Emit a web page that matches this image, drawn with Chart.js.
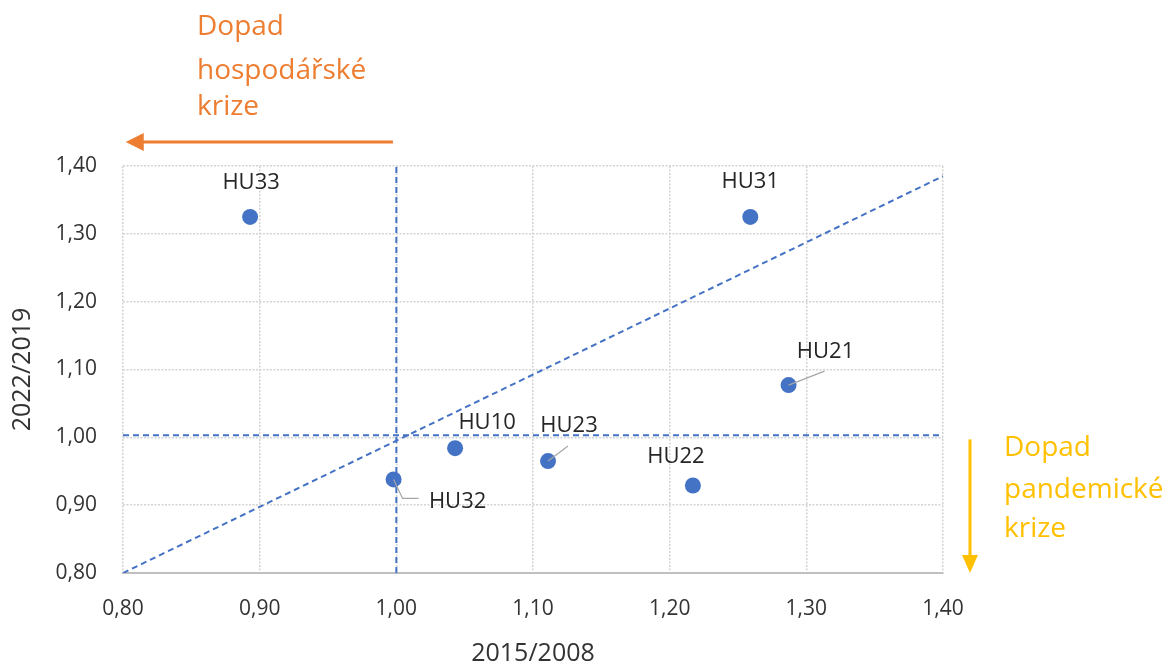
<!DOCTYPE html>
<html>
<head>
<meta charset="utf-8">
<script src="https://cdn.jsdelivr.net/npm/chart.js@4"></script>
<style>
  html, body { margin: 0; padding: 0; background: #fff; }
  #wrap { width: 1168px; height: 666px; }
</style>
</head>
<body>
<div id="wrap"><canvas id="graf"></canvas></div>
<script>
// regiony a poměry
const regions = ['HU10', 'HU21', 'HU22', 'HU23', 'HU31', 'HU32', 'HU33'];
const ratio2015 = [1.043, 1.287, 1.217, 1.111, 1.259, 0.998, 0.893];
const ratio2022 = [0.984, 1.077, 0.929, 0.965, 1.325, 0.938, 1.325];

// pomocné čáry
const lineX = [0.80, 1.40];
const levelY = [1.003, 1.003];
const crossX = [1.00, 1.00];
const crossY = [0.80, 1.40];
const diagY = [0.80, 1.385];

const fmt = v => Number(v).toFixed(2).replace('.', ',');

// posun popisků v pixelech (a vodicí čáry)
const labelOffset = {
  HU10: { dx: 32, dy: -25 },
  HU21: { dx: 37, dy: -33, lead: [[36, -14]] },
  HU22: { dx: -17, dy: -29 },
  HU23: { dx: 21, dy: -35, lead: [[20, -15]] },
  HU31: { dx: 0, dy: -35 },
  HU32: { dx: 64, dy: 22, lead: [[9, 19], [25, 19]] },
  HU33: { dx: 1, dy: -34 }
};

const textColor = '#333333';
const blue = '#4472C4';
const orange = '#ED7D31';
const yellow = '#FFC000';

const labelsPlugin = {
  id: 'labels',
  afterDatasetsDraw(chart) {
    const ctx = chart.ctx;
    const meta = chart.getDatasetMeta(0);
    ctx.save();
    ctx.font = '22px "Open Sans"';
    ctx.fillStyle = '#262626';
    ctx.textAlign = 'center';
    ctx.textBaseline = 'middle';
    meta.data.forEach((pt, i) => {
      const o = labelOffset[regions[i]];
      if (o.lead) {
        ctx.beginPath();
        ctx.strokeStyle = '#a6a6a6';
        ctx.lineWidth = 1.2;
        ctx.moveTo(pt.x, pt.y);
        o.lead.forEach(p => ctx.lineTo(pt.x + p[0], pt.y + p[1]));
        ctx.stroke();
      }
      ctx.fillText(regions[i], pt.x + o.dx, pt.y + o.dy);
    });
    ctx.restore();
  }
};

const arrowPlugin = {
  id: 'arrows',
  afterDraw(chart) {
    const ctx = chart.ctx;
    const xs = chart.scales.x, ys = chart.scales.y;
    ctx.save();
    // hospodářská krize - doleva
    let x1 = xs.getPixelForValue(0.9975), x2 = xs.getPixelForValue(0.802), y = 142;
    ctx.strokeStyle = orange; ctx.fillStyle = orange; ctx.lineWidth = 3;
    ctx.beginPath(); ctx.moveTo(x1, y); ctx.lineTo(x2 + 16, y); ctx.stroke();
    ctx.beginPath(); ctx.moveTo(x2, y); ctx.lineTo(x2 + 18, y - 9); ctx.lineTo(x2 + 18, y + 9); ctx.closePath(); ctx.fill();
    ctx.font = '28px "Open Sans"';
    ctx.textAlign = 'left'; ctx.textBaseline = 'alphabetic';
    ctx.fillText('Dopad', 197, 35);
    ctx.fillText('hospodářské', 197, 79);
    ctx.fillText('krize', 197, 115);
    // pandemická krize - dolů
    let x = 970, y1 = ys.getPixelForValue(0.997), y2 = ys.getPixelForValue(0.80);
    ctx.strokeStyle = yellow; ctx.fillStyle = yellow;
    ctx.beginPath(); ctx.moveTo(x, y1); ctx.lineTo(x, y2 - 16); ctx.stroke();
    ctx.beginPath(); ctx.moveTo(x, y2); ctx.lineTo(x - 8, y2 - 18); ctx.lineTo(x + 8, y2 - 18); ctx.closePath(); ctx.fill();
    ctx.fillText('Dopad', 1004, 456);
    ctx.fillText('pandemické', 1004, 498);
    ctx.fillText('krize', 1004, 537);
    ctx.restore();
  }
};

const refLine = {
  type: 'line',
  showLine: true,
  borderColor: blue,
  borderWidth: 2,
  borderDash: [6, 4],
  pointRadius: 0,
  fill: false
};

new Chart(document.getElementById('graf'), {
  type: 'scatter',
  data: {
    datasets: [
      {
        label: 'regiony',
        data: regions.map((r, i) => ({ x: ratio2015[i], y: ratio2022[i] })),
        backgroundColor: blue,
        borderWidth: 0,
        pointRadius: 8,
        pointHoverRadius: 8
      },
      Object.assign({}, refLine, { data: lineX.map((v, i) => ({ x: v, y: levelY[i] })) }),
      Object.assign({}, refLine, { data: crossX.map((v, i) => ({ x: v, y: crossY[i] })) }),
      Object.assign({}, refLine, { data: lineX.map((v, i) => ({ x: v, y: diagY[i] })) })
    ]
  },
  options: {
    responsive: true,
    maintainAspectRatio: false,
    animation: false,
    events: [],
    layout: { padding: { left: 0, top: 166, right: 225, bottom: 0 } },
    plugins: { legend: { display: false }, tooltip: { enabled: false } },
    scales: {
      x: {
        type: 'linear',
        min: 0.8, max: 1.4,
        afterFit: s => { s.height = 93; },
        ticks: { stepSize: 0.1, padding: 23, color: textColor, font: { family: 'Open Sans', size: 21 }, callback: fmt },
        grid: { color: '#d4d4d4', lineWidth: 1.5, drawTicks: false },
        border: { display: true, color: '#bfbfbf', width: 2, dash: [2, 1.5] },
        title: { display: true, text: '2015/2008', color: textColor, font: { family: 'Open Sans', size: 25, lineHeight: 1 }, padding: { top: 0, bottom: 0 } }
      },
      y: {
        type: 'linear',
        min: 0.8, max: 1.4,
        afterFit: s => { s.width = 123; },
        ticks: { stepSize: 0.1, padding: 26, color: textColor, font: { family: 'Open Sans', size: 21 }, callback: fmt },
        grid: { color: '#d4d4d4', lineWidth: 1.5, drawTicks: false },
        border: { display: false, dash: [2, 1.5] },
        title: { display: true, text: '2022/2019', color: textColor, font: { family: 'Open Sans', size: 25, lineHeight: 1 }, padding: { top: 10, bottom: 0 } }
      }
    }
  },
  plugins: [labelsPlugin, arrowPlugin]
});
</script>
</body>
</html>
